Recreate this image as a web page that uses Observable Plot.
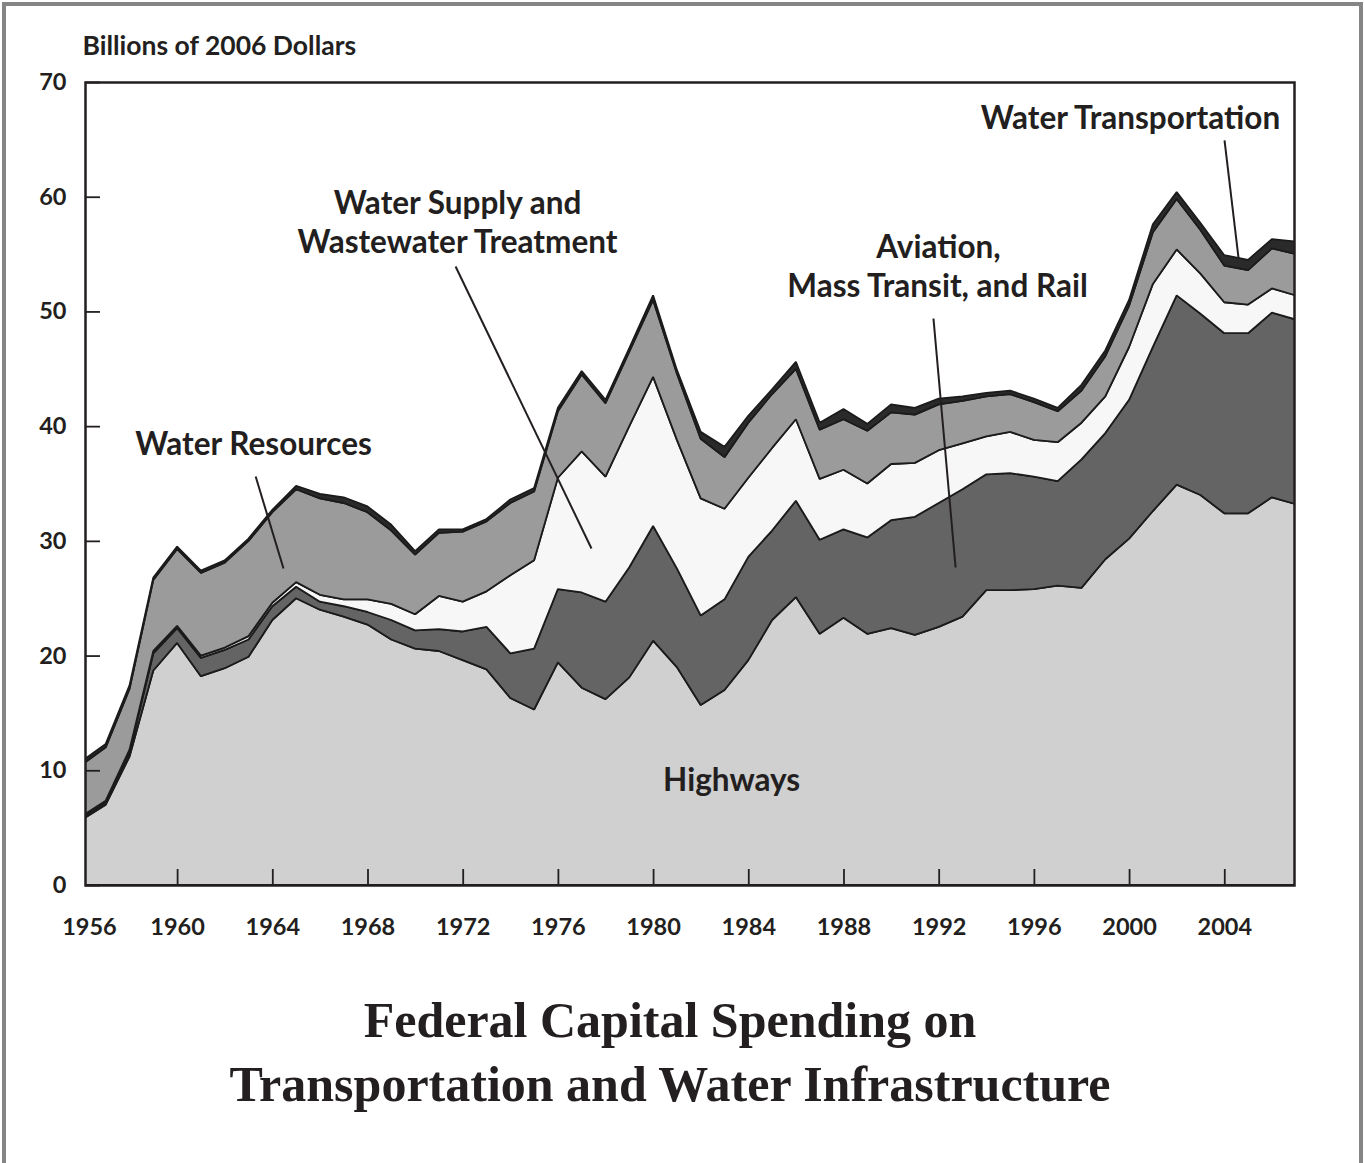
<!DOCTYPE html>
<html><head><meta charset="utf-8">
<script src="https://cdn.jsdelivr.net/npm/d3@7"></script>
<script src="https://cdn.jsdelivr.net/npm/@observablehq/plot@0.6"></script>
<style>
body{margin:0;background:#fff;}
#frame{position:absolute;left:2px;top:2px;width:1353px;height:1200px;border:4px solid #858585;}
#chart{position:absolute;left:0;top:0;}
#title{position:absolute;left:-12px;top:988px;width:1364px;text-align:center;font-family:"Liberation Serif",serif;font-weight:bold;font-size:50px;line-height:64px;color:#231f20;}
</style></head>
<body>
<div id="frame"></div>
<div id="chart"></div>
<div id="title">Federal Capital Spending on<br>Transportation and Water Infrastructure</div>
<script>
const years = [1956,1957,1958,1959,1960,1961,1962,1963,1964,1965,1966,1967,1968,1969,1970,1971,1972,1973,1974,1975,1976,1977,1978,1979,1980,1981,1982,1983,1984,1985,1986,1987,1988,1989,1990,1991,1992,1993,1994,1995,1996,1997,1998,1999,2000,2001,2002,2003,2004,2005,2006,2007];
const highways = [5.7,7.0,11.2,18.7,21.1,18.2,18.9,19.9,23.1,25.0, 24.0,23.4,22.7,21.4,20.6,20.4,19.6,18.8,16.3,15.3, 19.4,17.2,16.2,18.1,21.3,19.0,15.7,17.0,19.6,23.1, 25.1,21.9,23.3,21.9,22.4,21.8,22.5,23.4,25.7,25.7, 25.8,26.1,25.9,28.4,30.2,32.6,34.9,34.0,32.4,32.4, 33.8,33.2];
const aviationTransitRail = [0.15,0.2,0.4,1.5,1.3,1.6,1.6,1.5,1.2,1.0, 0.7,0.9,1.1,1.7,1.6,1.9,2.5,3.7,3.9,5.3, 6.4,8.3,8.5,9.6,10.0,8.6,7.8,7.9,9.0,7.8, 8.4,8.2,7.7,8.4,9.4,10.3,10.8,11.1,10.1,10.2, 9.8,9.1,11.2,11.0,12.1,14.3,16.5,15.8,15.7,15.7, 16.1,16.1];
const waterSupply = [0.15,0.15,0.2,0.2,0.2,0.2,0.2,0.3,0.3,0.4, 0.6,0.6,1.1,1.4,1.4,2.9,2.6,3.1,6.8,7.7, 9.7,12.3,10.9,12.3,13.0,11.2,10.2,7.9,6.9,7.2, 7.1,5.3,5.2,4.7,4.9,4.7,4.6,4.0,3.3,3.6, 3.2,3.4,3.2,3.2,4.6,5.5,4.0,3.5,2.7,2.5, 2.1,2.1];
const waterResources = [4.5,4.65,5.3,6.2,6.7,7.2,7.4,8.3,7.9,8.1, 8.4,8.4,7.6,6.4,5.2,5.5,6.1,6.1,6.3,6.0, 5.8,6.7,6.4,6.5,6.7,5.8,5.2,4.5,4.8,4.7, 4.4,4.3,4.4,4.6,4.5,4.2,4.0,3.7,3.5,3.3, 3.3,2.7,2.8,3.5,3.6,4.5,4.4,3.8,3.2,3.0, 3.5,3.6];
const waterTransportation = [0.3,0.3,0.3,0.2,0.2,0.2,0.2,0.2,0.2,0.3, 0.4,0.5,0.5,0.5,0.3,0.3,0.2,0.2,0.3,0.3, 0.3,0.3,0.3,0.3,0.4,0.3,0.6,0.9,0.6,0.4, 0.6,0.6,0.9,0.6,0.7,0.6,0.5,0.4,0.3,0.3, 0.3,0.3,0.5,0.5,0.5,0.7,0.6,0.6,0.9,0.9, 0.8,1.1];

const seriesNames = ["Highways","Aviation, Mass Transit, and Rail","Water Supply and Wastewater Treatment","Water Resources","Water Transportation"];
const seriesColors = ["#d0d0d0","#646464","#f7f7f7","#9b9b9b","#2a2a2a"];
const seriesValues = [highways, aviationTransitRail, waterSupply, waterResources, waterTransportation];

const xTicks = [1960,1964,1968,1972,1976,1980,1984,1988,1992,1996,2000,2004];
const xFirstTick = [1956];
const yTicks = [0,10,20,30,40,50,60,70];
const yUnitLabel = "Billions of 2006 Dollars";

// annotation labels (data coordinates: year, value at text baseline)
const labelText = ["Water Resources","Water Supply and","Wastewater Treatment","Aviation,","Mass Transit, and Rail","Water Transportation","Highways"];
const labelYear = [1963.19,1971.76,1971.76,1991.97,1991.93,2000.04,1983.28];
const labelValue = [37.49,58.58,55.18,54.66,51.26,65.99,8.28];
// leader lines
const leaderX1 = [1963.28,1971.68,1991.76,2003.99];
const leaderY1 = [35.65,53.96,49.43,64.95];
const leaderX2 = [1964.45,1977.39,1992.69,2004.58];
const leaderY2 = [27.63,29.38,27.72,54.66];

const data = [];
seriesNames.forEach((s, i) => years.forEach((yr, j) => data.push({series: s, year: yr, value: seriesValues[i][j]})));
const labels = labelText.map((t, i) => ({text: t, x: labelYear[i], y: labelValue[i]}));
const leaders = leaderX1.map((x, i) => ({x1: x, y1: leaderY1[i], x2: leaderX2[i], y2: leaderY2[i]}));

const ink = "#231f20";
const chart = Plot.plot({
  width: 1364, height: 960,
  marginLeft: 85, marginRight: 70, marginTop: 82, marginBottom: 75,
  x: {domain: [1956.13, 2006.93]},
  y: {domain: [0, 70]},
  color: {domain: seriesNames, range: seriesColors},
  style: {fontFamily: "Lato, sans-serif", fontSize: "24px", color: ink, background: "transparent"},
  marks: [
    Plot.areaY(data, {x: "year", y: "value", z: "series", fill: "series", order: seriesNames,
      stroke: "#1b1b1b", strokeWidth: 1.8, strokeLinejoin: "miter", clip: true}),
    Plot.frame({stroke: ink, strokeWidth: 2.5}),
    Plot.axisX(xTicks, {tickSize: -16, tickPadding: 49, tickFormat: d => String(d), fontWeight: "bold", fontSize: 23.5, stroke: ink, strokeWidth: 1.8, label: null}),
    Plot.axisX(xFirstTick, {tickSize: 0, tickPadding: 33, dx: 7, tickFormat: d => String(d), fontWeight: "bold", fontSize: 23.5, label: null}),
    Plot.axisY(yTicks, {tickSize: -15, tickPadding: 34, fontWeight: "bold", fontSize: 23.5, stroke: ink, strokeWidth: 1.8, label: null}),
    Plot.text([yUnitLabel], {frameAnchor: "top-left", dx: -3, dy: -28, textAnchor: "start", lineAnchor: "bottom", fontWeight: "bold", fontSize: 26.5, fill: ink}),
    Plot.link(leaders, {x1: "x1", y1: "y1", x2: "x2", y2: "y2", stroke: ink, strokeWidth: 2}),
    Plot.text(labels, {x: "x", y: "y", text: "text", textAnchor: "middle", lineAnchor: "bottom", fontWeight: "bold", fontSize: 31.5, fill: ink})
  ]
});
document.getElementById("chart").appendChild(chart);
</script>
</body></html>
